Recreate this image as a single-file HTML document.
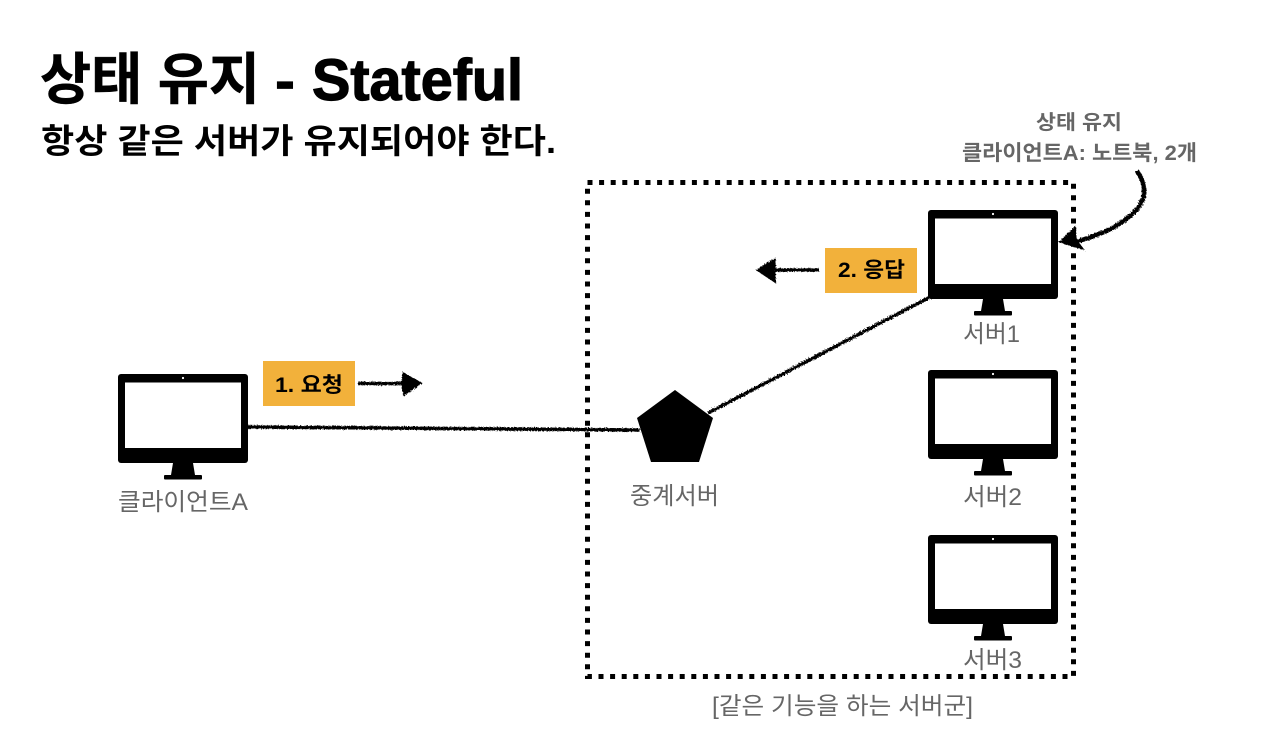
<!DOCTYPE html>
<html lang="ko"><head><meta charset="utf-8"><title>상태 유지 - Stateful</title>
<style>
html,body{margin:0;padding:0;background:#fff;width:1280px;height:747px;overflow:hidden}
svg{display:block}
text{font-family:"Liberation Sans","Noto Sans CJK KR",sans-serif}
.b{font-weight:700}
.l{fill:#666;font-size:24px}
</style></head><body>
<svg width="1280" height="747" viewBox="0 0 1280 747" xmlns="http://www.w3.org/2000/svg">
<defs>
<filter id="r" x="0" y="0" width="1280" height="747" filterUnits="userSpaceOnUse" primitiveUnits="userSpaceOnUse">
<feTurbulence type="fractalNoise" baseFrequency="0.7" numOctaves="2" seed="3"/>
<feDisplacementMap in="SourceGraphic" scale="3"/>
</filter>
<g id="m">
<rect x="0" y="0" width="130" height="89" rx="3" fill="#000"/>
<rect x="7" y="8.500" width="116" height="65.500" fill="#fff"/>
<circle cx="65" cy="4" r="1.100" fill="#fff"/>
<path d="M55 89H75L77 101H53Z" fill="#000"/>
<rect x="46" y="101" width="38" height="4.500" rx="1" fill="#000"/>
</g>
</defs>
<rect width="1280" height="747" fill="#fff"/>

<text class="b" x="40" y="99" font-size="56" textLength="220" lengthAdjust="spacingAndGlyphs" stroke="#000" stroke-width="0.500">상태 유지</text>
<text class="b" x="275" y="100" font-size="57" textLength="20" lengthAdjust="spacingAndGlyphs" stroke="#000" stroke-width="0.800">-</text>
<text class="b" x="312" y="100" font-size="58" textLength="211" lengthAdjust="spacingAndGlyphs" stroke="#000" stroke-width="1.200">Stateful</text>
<text class="b" x="41" y="153" font-size="34" textLength="515" lengthAdjust="spacingAndGlyphs">항상 같은 서버가 유지되어야 한다.</text>

<rect x="587.500" y="182.500" width="486" height="494" fill="none" stroke="#000" stroke-width="5" stroke-dasharray="5 6.600"/>

<use href="#m" x="118" y="374"/>
<use href="#m" x="928" y="210"/>
<use href="#m" x="928" y="370"/>
<use href="#m" x="928" y="535"/>

<path d="M675 390L713 418L699 462H651L637 418Z" fill="#000"/>

<g filter="url(#r)" fill="none" stroke="#000" stroke-width="3.500">
<path d="M248 427L640 430"/>
<path d="M708 413L930 297"/>
<path d="M358 383.500L406 383.500"/>
<path d="M819 270L772 270"/>
<path d="M1137 171C1150 190 1146 206 1122 222C1108 232 1092 237 1072 243" stroke-width="4.500"/>
<path d="M403 373C408 376 416 380 421 383C416 387 408 392 404 395C402 388 402 380 403 373Z" fill="#000" stroke-width="1.500"/>
<path d="M757 270L775 259V282Z" fill="#000" stroke-width="1.500"/>
<path d="M1060 242L1075 227L1076 240L1083 249Z" fill="#000" stroke-width="1.500"/>
</g>

<rect x="263" y="361" width="92" height="45" fill="#F2B13B"/>
<rect x="825" y="248" width="92" height="45" fill="#F2B13B"/>
<text class="b" x="275" y="392" font-size="21" textLength="68" lengthAdjust="spacingAndGlyphs">1. 요청</text>
<text class="b" x="838" y="277" font-size="21" textLength="67" lengthAdjust="spacingAndGlyphs">2. 응답</text>

<text class="l" x="118" y="510" textLength="130" lengthAdjust="spacingAndGlyphs">클라이언트A</text>
<text class="l" x="630" y="504" textLength="89" lengthAdjust="spacingAndGlyphs">중계서버</text>
<text class="l" x="963" y="342" textLength="57" lengthAdjust="spacingAndGlyphs">서버1</text>
<text class="l" x="963" y="505" textLength="59" lengthAdjust="spacingAndGlyphs">서버2</text>
<text class="l" x="963" y="668" textLength="59" lengthAdjust="spacingAndGlyphs">서버3</text>
<text class="l" x="712" y="714" textLength="261" lengthAdjust="spacingAndGlyphs">[같은 기능을 하는 서버군]</text>

<text class="b" x="1036" y="129" font-size="20" fill="#666" textLength="86" lengthAdjust="spacingAndGlyphs">상태 유지</text>
<text class="b" x="962" y="160" font-size="21" fill="#666" textLength="235" lengthAdjust="spacingAndGlyphs">클라이언트A: 노트북, 2개</text>
</svg>
</body></html>
